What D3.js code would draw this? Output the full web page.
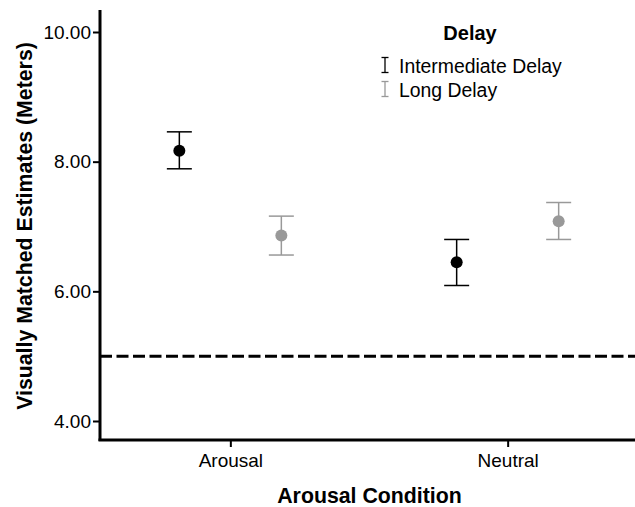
<!DOCTYPE html>
<html>
<head>
<meta charset="utf-8">
<script src="https://cdn.jsdelivr.net/npm/d3@7"></script>
<style>
  body { margin: 0; background: #fff; }
  svg { font-family: "Liberation Sans", Arial, sans-serif; }
</style>
</head>
<body>
<div class="chart"></div>
<script>
// means and error bar ends
const conditions = ["Arousal", "Neutral"];
const delays = ["Intermediate Delay", "Long Delay"];
const delayColors = ["#000000", "#999999"];
const means = [[8.17, 6.86], [6.45, 7.08]];
const lower = [[7.89, 6.56], [6.09, 6.80]];
const upper = [[8.46, 7.16], [6.80, 7.37]];
const yTicks = [4, 6, 8, 10];
const chanceLine = 5.0;

const width = 635, height = 507;
const margin = {left: 100, top: 10, right: 0, bottom: 67};
const fontFam = "Liberation Sans, Arial, sans-serif";

const svg = d3.select(".chart").append("svg")
    .attr("width", width).attr("height", height);

const yScale = d3.scaleLinear().domain([4, 10]).range([421, 32]);
const xScale = d3.scalePoint().domain(conditions).range([100, 638]).padding(0.47);
const dodge = d3.scalePoint().domain(delays).range([-51, 51]);

// flatten into rows for drawing
const rows = [];
conditions.forEach((c, i) => {
    delays.forEach((d, j) => {
        rows.push({cond: c, delay: d, color: delayColors[j],
            mean: means[i][j], lo: lower[i][j], hi: upper[i][j]});
    });
});

// y axis
const yAxis = d3.axisLeft(yScale).tickValues(yTicks)
    .tickFormat(d3.format(".2f")).tickSizeInner(7).tickSizeOuter(0).tickPadding(2);
const yG = svg.append("g").attr("transform", `translate(${margin.left},0)`).call(yAxis);
yG.select(".domain").remove();
yG.selectAll(".tick line").attr("stroke", "#000").attr("stroke-width", 2);
yG.selectAll(".tick text").attr("font-size", 19).attr("fill", "#000")
    .attr("font-family", fontFam);
svg.append("line").attr("x1", margin.left).attr("x2", margin.left)
    .attr("y1", 10).attr("y2", 441).attr("stroke", "#000").attr("stroke-width", 3);

// x axis
const xAxis = d3.axisBottom(xScale).tickSizeInner(7).tickSizeOuter(0).tickPadding(7);
const xG = svg.append("g").attr("transform", "translate(0,440)").call(xAxis);
xG.select(".domain").remove();
xG.selectAll(".tick line").attr("stroke", "#000").attr("stroke-width", 2);
xG.selectAll(".tick text").attr("font-size", 19).attr("fill", "#000")
    .attr("font-family", fontFam);
svg.append("line").attr("x1", margin.left - 1.5).attr("x2", width)
    .attr("y1", 440).attr("y2", 440).attr("stroke", "#000").attr("stroke-width", 3);

// dashed reference line
svg.append("line").attr("x1", margin.left).attr("x2", width)
    .attr("y1", yScale(chanceLine)).attr("y2", yScale(chanceLine))
    .attr("stroke", "#000").attr("stroke-width", 3).attr("stroke-dasharray", "12,4.5");

// error bars + points
const cap = 12.5;
const marks = svg.append("g").selectAll("g").data(rows).join("g")
    .attr("transform", d => `translate(${xScale(d.cond) + dodge(d.delay)},0)`);
marks.append("line").attr("y1", d => yScale(d.lo)).attr("y2", d => yScale(d.hi))
    .attr("stroke", d => d.color).attr("stroke-width", 1.5);
marks.append("line").attr("x1", -cap).attr("x2", cap)
    .attr("y1", d => yScale(d.hi)).attr("y2", d => yScale(d.hi))
    .attr("stroke", d => d.color).attr("stroke-width", 1.5);
marks.append("line").attr("x1", -cap).attr("x2", cap)
    .attr("y1", d => yScale(d.lo)).attr("y2", d => yScale(d.lo))
    .attr("stroke", d => d.color).attr("stroke-width", 1.5);
marks.append("circle").attr("cy", d => yScale(d.mean)).attr("r", 6)
    .attr("fill", d => d.color);

// axis titles
svg.append("text").attr("x", 369.5).attr("y", 503).attr("text-anchor", "middle")
    .attr("font-size", 21.3).attr("font-weight", "bold").text("Arousal Condition");
svg.append("text").attr("transform", "translate(32,226) rotate(-90)")
    .attr("text-anchor", "middle").attr("font-size", 21.3).attr("font-weight", "bold")
    .text("Visually Matched Estimates (Meters)");

// legend
const legend = svg.append("g");
legend.append("text").attr("x", 470).attr("y", 40).attr("text-anchor", "middle")
    .attr("font-size", 20).attr("font-weight", "bold").text("Delay");
delays.forEach((d, i) => {
    const y = 65 + i * 24;
    const g = legend.append("g").attr("transform", `translate(385,${y})`);
    g.append("line").attr("y1", -7.5).attr("y2", 7.5).attr("stroke", delayColors[i]).attr("stroke-width", 1.3);
    g.append("line").attr("x1", -3.5).attr("x2", 3.5).attr("y1", -7.5).attr("y2", -7.5).attr("stroke", delayColors[i]).attr("stroke-width", 1.3);
    g.append("line").attr("x1", -3.5).attr("x2", 3.5).attr("y1", 7.5).attr("y2", 7.5).attr("stroke", delayColors[i]).attr("stroke-width", 1.3);
    g.append("text").attr("x", 14).attr("y", 8).attr("font-size", 19.4).text(d);
});
</script>
</body>
</html>
